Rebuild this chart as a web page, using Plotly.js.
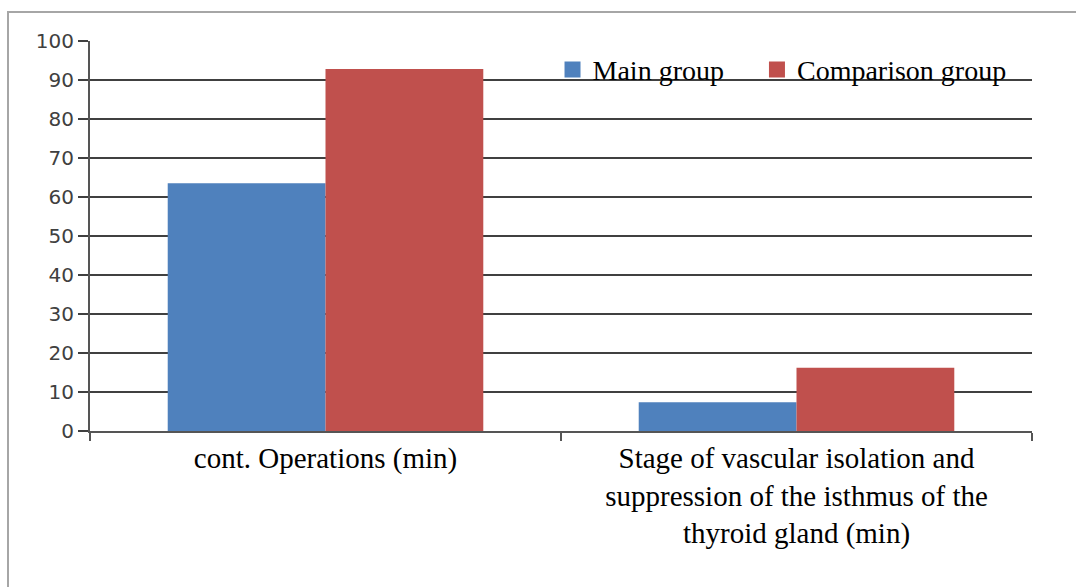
<!DOCTYPE html>
<html>
<head>
<meta charset="utf-8">
<script src="https://cdn.plot.ly/plotly-3.0.1.min.js"></script>
<style>
html,body{margin:0;padding:0;background:#fff;}
#frame{position:absolute;left:7px;top:11px;width:1069px;height:576px;border-left:2px solid #a6a6a6;border-top:2px solid #a6a6a6;box-sizing:border-box;pointer-events:none;z-index:5;}
#chart{width:1076px;height:587px;}
</style>
</head>
<body>
<div id="frame"></div>
<div id="chart"></div>
<script>
const categories = ["cont. Operations (min)", "Stage of vascular isolation and<br>suppression of the isthmus of the<br>thyroid gland (min)"];
const seriesNames = ["Main group", "Comparison group"];
const seriesColors = ['#4F81BD', '#C0504D'];
const mainGroup = [63.5, 7.4];
const comparisonGroup = [92.8, 16.2];
const yTicks = [0, 10, 20, 30, 40, 50, 60, 70, 80, 90, 100];

const serif = "'Liberation Serif', 'Times New Roman', serif";
const pad = '\u00A0\u00A0\u00A0\u00A0';

const traces = [
  {type: 'bar', name: seriesNames[0], x: categories, y: mainGroup,
   marker: {color: seriesColors[0]}, hoverinfo: 'skip', showlegend: false},
  {type: 'bar', name: seriesNames[1], x: categories, y: comparisonGroup,
   marker: {color: seriesColors[1]}, hoverinfo: 'skip', showlegend: false},
  // legend entries (larger square swatches)
  {type: 'scatter', mode: 'markers', name: seriesNames[0] + pad, x: [categories[0]], y: [null],
   marker: {symbol: 'square', size: 16, color: seriesColors[0]}, hoverinfo: 'skip'},
  {type: 'scatter', mode: 'markers', name: seriesNames[1], x: [categories[0]], y: [null],
   marker: {symbol: 'square', size: 16, color: seriesColors[1]}, hoverinfo: 'skip'}
];

const layout = {
  width: 1076, height: 587,
  margin: {l: 90, r: 44, t: 41, b: 156},
  paper_bgcolor: '#ffffff', plot_bgcolor: '#ffffff',
  barmode: 'group', bargap: 0.33, bargroupgap: 0,
  showlegend: true,
  legend: {orientation: 'h', x: 0.491, xanchor: 'left', y: 0.926, yanchor: 'middle',
           font: {family: serif, size: 28, color: '#000'}, bgcolor: 'rgba(0,0,0,0)',
           traceorder: 'normal'},
  xaxis: {type: 'category', range: [-0.5, 1.5], showgrid: false,
          showline: true, linecolor: '#555', linewidth: 2,
          ticks: 'outside', tickson: 'boundaries', ticklen: 8, tickcolor: '#555', tickwidth: 2,
          tickfont: {family: serif, size: 29, color: '#000'}, fixedrange: true},
  yaxis: {range: [0, 100], tickvals: yTicks, ticktext: yTicks.map(String),
          showgrid: true, gridcolor: '#404040', gridwidth: 1.5,
          zeroline: false, showline: true, linecolor: '#555', linewidth: 2,
          ticks: 'outside', ticklen: 10, tickcolor: '#404040', tickwidth: 1.5,
          tickfont: {family: "'DejaVu Sans', Verdana, sans-serif", size: 20, color: '#404040'},
          fixedrange: true}
};

Plotly.newPlot('chart', traces, layout, {staticPlot: true, displayModeBar: false});
</script>
</body>
</html>
